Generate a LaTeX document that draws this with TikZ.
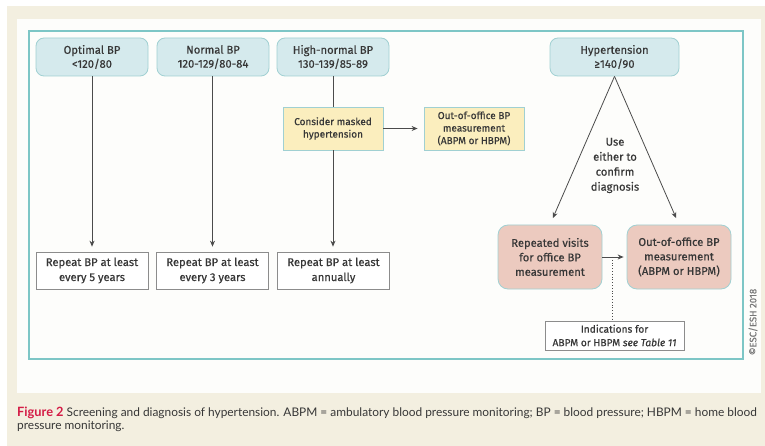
\documentclass[tikz,border=0pt]{standalone}
\usepackage{fontspec}
\setmainfont{Fira Sans}[FakeBold=0.5]
\newfontfamily\capfont{Lato}
\usetikzlibrary{arrows.meta}

\definecolor{pagebeige}{RGB}{243,239,224}
\definecolor{panelwhite}{RGB}{253,253,251}
\definecolor{frameteal}{RGB}{125,198,198}
\definecolor{edgeteal}{RGB}{160,208,210}
\definecolor{bluefill}{RGB}{213,234,237}
\definecolor{yellowfill}{RGB}{251,238,190}
\definecolor{pinkfill}{RGB}{236,202,191}
\definecolor{inktext}{RGB}{55,55,55}
\definecolor{lineink}{RGB}{75,75,75}
\definecolor{plainedge}{RGB}{140,140,140}
\definecolor{figred}{RGB}{212,28,70}

\tikzset{
  every node/.style={text=inktext, inner sep=0pt},
  catbox/.style={draw=edgeteal, fill=bluefill, rounded corners=8pt, line width=0.8pt,
    minimum width=112pt, minimum height=38pt, align=center,
    font=\fontsize{11.2}{14}\selectfont},
  repeatbox/.style={draw=plainedge, fill=white, line width=0.7pt,
    minimum width=112pt, minimum height=37pt, align=center,
    font=\fontsize{11.2}{15}\selectfont},
  notebox/.style={draw=edgeteal, fill=yellowfill, line width=0.8pt,
    minimum width=100pt, minimum height=43pt, align=center,
    font=\fontsize{10}{12.5}\selectfont},
  diagbox/.style={draw=edgeteal, fill=pinkfill, rounded corners=10pt, line width=0.8pt,
    minimum width=104pt, minimum height=64pt, align=center,
    font=\fontsize{11.2}{14.5}\selectfont},
  refbox/.style={draw=plainedge, fill=white, line width=0.7pt,
    minimum width=139pt, minimum height=29pt, align=center,
    font=\fontsize{10.2}{13.5}\selectfont},
  flow/.style={draw=lineink, line width=0.8pt},
  flowarrow/.style={flow, -{Stealth[length=6pt,width=5pt]}},
}

\begin{document}
\begin{tikzpicture}[x=1pt, y=-1pt]
  \useasboundingbox (0,0) rectangle (765,446);
  % page background, white panel and teal frame
  \fill[white] (0,0) rectangle (765,446);
  \fill[pagebeige] (7,6) rectangle (765,446);
  \fill[panelwhite] (17,19) rectangle (761,393);
  \draw[frameteal, line width=1.1pt] (29,31) rectangle (743,359);

  % blood pressure categories
  \node[catbox] (opt)  at (92,57)    {Optimal BP\\<120/80};
  \node[catbox] (norm) at (213,57)   {Normal BP\\120-129/80-84};
  \node[catbox] (high) at (333,57)   {High-normal BP\\130-139/85-89};
  \node[catbox, minimum width=129pt] (hyp) at (614.5,57) {Hypertension\\≥140/90};

  % follow-up advice
  \node[repeatbox] (r5) at (92,270.5)  {Repeat BP at least\\every 5 years};
  \node[repeatbox] (r3) at (212.5,270.5) {Repeat BP at least\\every 3 years};
  \node[repeatbox] (r1) at (333.5,270.5) {Repeat BP at least\\annually};

  % masked hypertension branch
  \node[notebox] (mask) at (333,128.5) {Consider masked\\hypertension};
  \node[notebox] (oob1) at (474,128.5) {Out-of-office BP\\measurement\\(ABPM or HBPM)};

  % confirmation of hypertension
  \node[diagbox] (visits) at (550,257) {Repeated visits\\for office BP\\measurement};
  \node[diagbox] (oob2)   at (679,257) {Out-of-office BP\\measurement\\(ABPM or HBPM)};
  \node[align=center, font=\fontsize{11.2}{15}\selectfont] (use) at (615,165.5)
    {Use\\either to\\confirm\\diagnosis};
  \node[refbox] (ind) at (614.5,335.5) {Indications for\\ABPM or HBPM \textit{see Table 11}};

  % connectors
  \draw[flowarrow, shorten >=5pt] (opt) -- (r5);
  \draw[flowarrow, shorten >=5pt] (norm.south -| r3) -- (r3);
  \draw[flow] (high) -- (mask);
  \draw[flowarrow, shorten >=5pt] (mask) -- (r1.north -| mask);
  \draw[flowarrow, shorten >=6pt] (mask) -- (oob1);
  \draw[flowarrow, shorten >=7pt] (hyp.south) -- (visits.north);
  \draw[flowarrow, shorten >=7pt] (hyp.south) -- (oob2.north);
  \draw[flowarrow, shorten >=3pt] (visits) -- (oob2);
  \coordinate (tap) at (612,257);
  \draw[lineink, line width=0.8pt, dotted] (tap) -- (tap |- ind.north);

  % copyright line
  \node[rotate=90, text=plainedge!85!black, font=\fontsize{9.5}{11}\selectfont] (copy) at (753,322) {©ESC/ESH 2018};

  % caption
  \node[anchor=base west, font=\capfont\fontsize{11.9}{13}\selectfont] (cap1) at (17,416)
    {{\fontsize{12.8}{13}\selectfont\bfseries\color{figred}Figure 2} Screening and diagnosis of hypertension. ABPM = ambulatory blood pressure monitoring; BP = blood pressure; HBPM = home blood};
  \node[anchor=base west, font=\capfont\fontsize{11.9}{13}\selectfont] (cap2) at (17,429)
    {pressure monitoring.};
\end{tikzpicture}
\end{document}
